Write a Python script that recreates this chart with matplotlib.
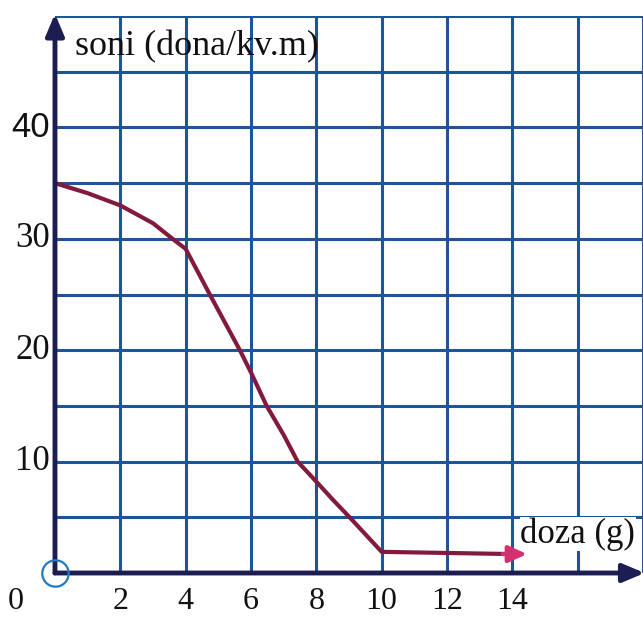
import matplotlib
matplotlib.use("Agg")
import matplotlib.pyplot as plt
import numpy as np

# values
doza = [0, 1, 2, 3, 3.6, 4, 4.74, 5.66, 6, 6.48, 7, 7.43, 8, 8.5, 9.02, 10, 12, 14]
soni = [35, 34.1, 33, 31.4, 30, 29.1, 25, 20, 18, 15, 12.4, 10, 8.2, 6.6, 5, 1.9, 1.8, 1.7]

x_ticks = [0, 2, 4, 6, 8, 10, 12, 14]
y_ticks = [10, 20, 30, 40]

grid_col = '#1f5596'
axis_col = '#1c1d50'
line_col = '#821a40'
serif = ['Liberation Serif', 'DejaVu Serif']

fig = plt.figure(figsize=(6.43, 6.17), dpi=100)
ax = fig.add_axes([0.0855, 0.0713, 0.9145, 0.9027])
ax.set_xlim(0, 18)
ax.set_ylim(0, 50)

# grid
for gx in np.arange(2, 19, 2):
    ax.axvline(gx, color=grid_col, lw=2.2, zorder=1)
for gy in np.arange(5, 51, 5):
    ax.axhline(gy, color=grid_col, lw=2.2, zorder=1)

for s in ax.spines.values():
    s.set_visible(False)
ax.set_xticks([])
ax.set_yticks([])

# axes with arrows
ax.annotate('', xy=(18.05, 0), xytext=(0, 0), annotation_clip=False,
            arrowprops=dict(arrowstyle='-|>,head_length=1.3,head_width=0.55',
                            color=axis_col, lw=3.5, shrinkA=0, shrinkB=0), zorder=4)
ax.annotate('', xy=(0, 50.2), xytext=(0, 0), annotation_clip=False,
            arrowprops=dict(arrowstyle='-|>,head_length=1.3,head_width=0.55',
                            color=axis_col, lw=3.5, shrinkA=0, shrinkB=0), zorder=4)

# origin circle
ax.plot([0], [0], marker='o', ms=19, mfc='none', mec='#1f7ac0', mew=1.6,
        clip_on=False, zorder=5)

# curve
ax.plot(doza, soni, color=line_col, lw=3, zorder=3, solid_capstyle='round',
        solid_joinstyle='round')
ax.annotate('', xy=(doza[-1] + 0.45, soni[-1]), xytext=(doza[-1] - 0.3, soni[-1]),
            arrowprops=dict(arrowstyle='-|>,head_length=1.1,head_width=0.5',
                            color='#d5306e', lw=3, shrinkA=0, shrinkB=0), zorder=3)

# tick labels
for t in x_ticks:
    xp = -1.2 if t == 0 else t
    ax.text(xp, -2.6, str(t), ha='center', va='center', fontsize=23,
            family=serif, color='#111111', clip_on=False)
for t in y_ticks:
    fam = ['Liberation Sans', 'DejaVu Sans'] if t == 40 else serif
    ax.text(-0.15, t, str(t), ha='right', va='center', fontsize=25,
            family=fam, color='#111111', clip_on=False)

ax.text(0.6, 47.2, 'soni (dona/kv.m)', ha='left', va='center', fontsize=26,
        family=serif, color='#111111', zorder=6)
ax.text(14.25, 3.5, 'doza (g)', ha='left', va='center', fontsize=25,
        family=serif, color='#111111', zorder=6,
        bbox=dict(facecolor='white', edgecolor='none', pad=0.5))

fig.savefig('out.png', dpi=100)
